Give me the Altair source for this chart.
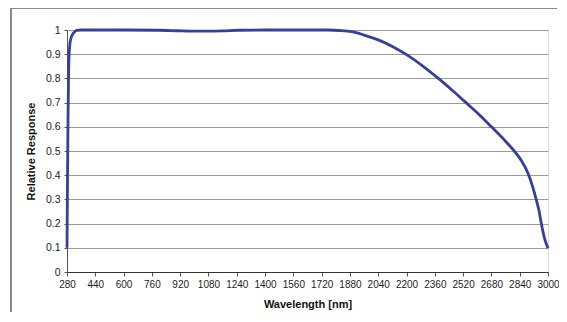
import altair as alt
import pandas as pd

# Spectral response curve
wavelength = [280, 283, 286, 289, 292, 296, 302, 310, 320, 335, 360, 400, 600, 800,
              900, 1000, 1080, 1160, 1250, 1400, 1600, 1760, 1820, 1890, 1960, 2040,
              2120, 2200, 2290, 2380, 2460, 2530, 2610, 2680, 2750, 2812, 2850, 2887,
              2910, 2934, 2950, 2962, 2980, 3000]
response = [0.10, 0.40, 0.65, 0.82, 0.90, 0.94, 0.965, 0.98, 0.99, 0.998, 1.0, 1.0, 1.0, 0.999,
            0.997, 0.995, 0.995, 0.996, 0.999, 1.0, 1.0, 1.0, 0.998, 0.993, 0.979, 0.959,
            0.932, 0.898, 0.852, 0.800, 0.750, 0.704, 0.651, 0.600, 0.548, 0.497, 0.46, 0.408,
            0.36, 0.298, 0.25, 0.201, 0.14, 0.098]

x_ticks = list(range(280, 3001, 160))
y_ticks = [0, 0.1, 0.2, 0.3, 0.4, 0.5, 0.6, 0.7, 0.8, 0.9, 1.0]

df = pd.DataFrame({"wl": wavelength, "r": response})

FONT = "Liberation Sans"

line = alt.Chart(df).mark_line(color="#34409c", strokeWidth=2.8, interpolate="monotone").encode(
    x=alt.X("wl:Q",
            scale=alt.Scale(domain=[280, 3000], nice=False, zero=False),
            axis=alt.Axis(values=x_ticks, format="d", title="Wavelength [nm]", grid=False,
                          labelFont=FONT, labelFontSize=10, labelColor="#222",
                          titleFont=FONT, titleFontSize=11, titleFontWeight="bold",
                          titleColor="#111", titlePadding=9,
                          domainColor="#333", tickColor="#555", tickSize=4,
                          labelPadding=3, labelOverlap=False, labelFlush=False)),
    y=alt.Y("r:Q",
            scale=alt.Scale(domain=[0, 1], nice=False),
            axis=alt.Axis(values=y_ticks, format=".1~f", title="Relative Response",
                          grid=True, gridColor="#9a9a9a", gridWidth=1,
                          labelFont=FONT, labelFontSize=10.5, labelColor="#222",
                          titleFont=FONT, titleFontSize=11, titleFontWeight="bold",
                          titleColor="#111", titlePadding=9,
                          domainColor="#555", tickColor="#555", tickSize=3,
                          labelPadding=4)),
)

# page-frame decoration (top and left border of the original page)
frame_top = alt.Chart(df).mark_rule(color="#8a8a8a", strokeWidth=1.5).encode(
    x=alt.value(-56), x2=alt.value(490), y=alt.value(-22))
frame_left = alt.Chart(df).mark_rule(color="#8a8a8a", strokeWidth=1.5).encode(
    x=alt.value(-56), y=alt.value(-22), y2=alt.value(300))

chart = alt.layer(frame_top, frame_left, line).properties(
    width=481, height=242,
    autosize=alt.AutoSizeParams(type="none"),
    padding={"left": 59, "top": 22, "right": 11, "bottom": 40},
).configure_view(stroke="#333", strokeWidth=1).configure(background="white")

chart.save("out.html", embed_options={"renderer": "svg", "actions": False})
